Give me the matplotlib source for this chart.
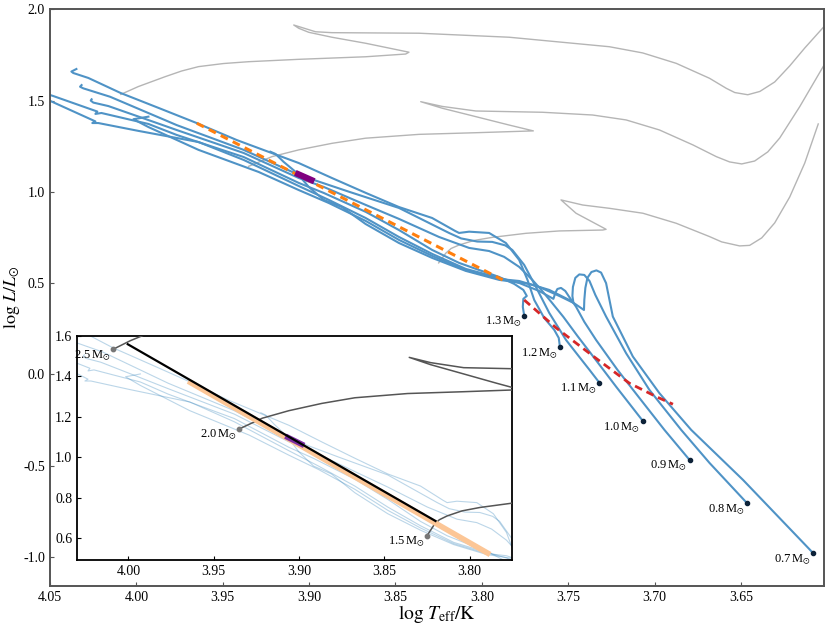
import matplotlib
matplotlib.use("Agg")
import matplotlib.pyplot as plt
from matplotlib.ticker import FormatStrFormatter

plt.rcParams["font.family"] = "serif"
plt.rcParams["font.serif"] = ["Liberation Serif", "DejaVu Serif"]
plt.rcParams["mathtext.fontset"] = "stix"

# --- blue tracks (first point = labelled dot) ---
t07_logT = [3.6082, 3.6488, 3.6788, 3.6972, 3.7126, 3.7242, 3.7281, 3.7310, 3.7337, 3.7366,
            3.7389, 3.7401, 3.7407, 3.7409, 3.7494, 3.7610, 3.7726, 3.7900, 3.8093, 3.8287,
            3.8480, 3.8673, 3.8810, 3.8915, 3.9002, 3.9071, 3.9147, 3.9195, 3.9224]
t07_logL = [-0.979, -0.578, -0.304, -0.103, 0.098, 0.317, 0.500, 0.558, 0.570, 0.561,
            0.529, 0.474, 0.408, 0.353, 0.408, 0.463, 0.496, 0.518, 0.567, 0.638,
            0.720, 0.824, 0.917, 0.956, 1.027, 1.104, 1.164, 1.208, 1.220]

t08_logT = [3.6465, 3.6682, 3.6846, 3.7030, 3.7165, 3.7281, 3.7343, 3.7377, 3.7407, 3.7436,
            3.7459, 3.7473, 3.7476, 3.7470, 3.7552, 3.7668, 3.7784, 3.7900, 3.8093, 3.8287,
            3.8480, 3.8673, 3.8886, 3.9060, 3.9292, 3.9640, 3.9930, 4.0017, 3.9930]
t08_logL = [-0.705, -0.485, -0.304, -0.085, 0.116, 0.317, 0.435, 0.512, 0.545, 0.548,
            0.529, 0.479, 0.430, 0.392, 0.430, 0.479, 0.512, 0.523, 0.572, 0.649,
            0.737, 0.841, 0.939, 1.010, 1.109, 1.230, 1.355, 1.398, 1.412]

t09_logT = [3.6798, 3.6943, 3.7088, 3.7215, 3.7339, 3.7407, 3.7455, 3.7494, 3.7517, 3.7542,
            3.7563, 3.7575, 3.7586, 3.7668, 3.7784, 3.7900, 3.8093, 3.8287, 3.8480, 3.8673,
            3.8886, 3.9060, 3.9379, 3.9640, 3.9988, 4.0220, 4.0255, 4.0237, 4.0498, 4.0527]
t09_logL = [-0.468, -0.304, -0.129, 0.025, 0.189, 0.288, 0.371, 0.424, 0.457, 0.474,
            0.468, 0.446, 0.414, 0.457, 0.501, 0.529, 0.578, 0.660, 0.753, 0.857,
            0.956, 1.032, 1.175, 1.273, 1.334, 1.377, 1.377, 1.386, 1.498, 1.509]

t10_logT = [3.7068, 3.7223, 3.7349, 3.7447, 3.7528, 3.7598, 3.7656, 3.7708, 3.7784, 3.7871,
            3.7958, 3.8074, 3.8248, 3.8480, 3.8671, 3.8915, 3.9060, 3.9379, 3.9767, 3.9959,
            4.0162, 4.0249, 4.0264, 4.0259]
t10_logL = [-0.255, -0.067, 0.090, 0.211, 0.315, 0.397, 0.463, 0.518, 0.589, 0.644,
            0.676, 0.693, 0.753, 0.852, 0.928, 1.027, 1.076, 1.213, 1.339, 1.403,
            1.470, 1.489, 1.500, 1.507]

t11_logT = [3.7320, 3.7377, 3.7436, 3.7513, 3.7610, 3.7687, 3.7755, 3.7824, 3.7865, 3.7940,
            3.8027, 3.8120, 3.8190, 3.8480, 3.8770, 3.9060, 3.9379, 3.9767, 4.0152, 4.0307,
            4.0326, 4.0317]
t11_logL = [-0.045, 0.025, 0.096, 0.189, 0.337, 0.479, 0.600, 0.682, 0.707, 0.726,
            0.728, 0.745, 0.775, 0.912, 1.001, 1.093, 1.230, 1.366, 1.521, 1.567,
            1.576, 1.585]

t12_logT = [3.7548, 3.7555, 3.7581, 3.7639, 3.7697, 3.7736, 3.7784, 3.7861, 3.7958, 3.8074,
            3.8132, 3.8155, 3.8288, 3.8480, 3.8671, 3.8868, 3.9060, 3.9234, 3.9419, 3.9651,
            3.9872, 4.0092, 4.0278, 4.0365, 4.0376, 4.0347]
t12_logL = [0.149, 0.200, 0.244, 0.309, 0.408, 0.518, 0.627, 0.720, 0.775, 0.782,
            0.775, 0.786, 0.857, 0.917, 0.994, 1.076, 1.158, 1.219, 1.284, 1.377,
            1.460, 1.542, 1.624, 1.651, 1.659, 1.673]

t13_logT = [3.7755, 3.7763, 3.7760, 3.7740, 3.7760, 3.7813, 3.7900, 3.8016, 3.8132, 3.8288,
            3.8480, 3.8671, 3.8915, 3.9060, 3.9379, 3.9767, 3.9930, 4.0202, 4.0237, 4.0226,
            4.0481, 4.0527]
t13_logL = [0.322, 0.370, 0.414, 0.430, 0.463, 0.496, 0.534, 0.572, 0.611, 0.682,
            0.791, 0.890, 0.994, 1.049, 1.191, 1.312, 1.372, 1.432, 1.427, 1.440,
            1.525, 1.539]

blue_masses = ["0.7", "0.8", "0.9", "1.0", "1.1", "1.2", "1.3"]
blue_tracks = [(t07_logT, t07_logL), (t08_logT, t08_logL), (t09_logT, t09_logL),
               (t10_logT, t10_logL), (t11_logT, t11_logL), (t12_logT, t12_logL),
               (t13_logT, t13_logL)]

# --- grey tracks ---
g15_logT = [3.825, 3.8209, 3.8178, 3.8132, 3.8045, 3.7939, 3.7745, 3.7552, 3.7300, 3.7281,
            3.7455, 3.7542, 3.7416, 3.7262, 3.7068, 3.6875, 3.6682, 3.6612, 3.6508, 3.6450,
            3.6380, 3.6305, 3.6218, 3.6131, 3.6053]
g15_logL = [0.611, 0.664, 0.690, 0.709, 0.734, 0.751, 0.773, 0.786, 0.791, 0.795,
            0.883, 0.956, 0.928, 0.910, 0.883, 0.828, 0.755, 0.726, 0.704, 0.707,
            0.748, 0.830, 0.972, 1.158, 1.372]

g20_logT = [3.935, 3.9215, 3.9060, 3.8867, 3.8673, 3.8364, 3.8035, 3.7702, 3.7842, 3.8035,
            3.8229, 3.8354, 3.8229, 3.8035, 3.7649, 3.7359, 3.7165, 3.6972, 3.6778, 3.6643,
            3.6566, 3.6496, 3.6421, 3.6345, 3.6276, 3.6160, 3.6019, 3.5957]
g20_logL = [1.140, 1.193, 1.230, 1.266, 1.294, 1.315, 1.324, 1.334, 1.366, 1.412,
            1.458, 1.494, 1.468, 1.443, 1.436, 1.421, 1.394, 1.339, 1.257, 1.193,
            1.164, 1.153, 1.169, 1.219, 1.295, 1.467, 1.695, 1.805]

g25_logT = [4.009, 3.9988, 3.9833, 3.9738, 3.9640, 3.9495, 3.9350, 3.9060, 3.8673, 3.8441,
            3.8422, 3.8673, 3.8868, 3.9002, 3.9060, 3.9089, 3.8963, 3.8868, 3.8364, 3.7842,
            3.7262, 3.7069, 3.6875, 3.6682, 3.6585, 3.6536, 3.6461, 3.6391, 3.6305, 3.6218,
            3.6131, 3.6020, 3.5985]
g25_logL = [1.534, 1.577, 1.631, 1.662, 1.686, 1.703, 1.713, 1.726, 1.740, 1.755,
            1.765, 1.814, 1.847, 1.874, 1.896, 1.914, 1.877, 1.872, 1.869, 1.847,
            1.795, 1.761, 1.704, 1.622, 1.567, 1.544, 1.532, 1.550, 1.602, 1.690,
            1.788, 1.905, 1.940]

grey_masses = ["1.5", "2.0", "2.5"]
grey_tracks = [(g15_logT, g15_logL), (g20_logT, g20_logL), (g25_logT, g25_logL)]

# --- fitted lines ---
orange_logT = [3.965, 3.788]
orange_logL = [1.376, 0.518]
purple_logT = [3.908, 3.897]
purple_logL = [1.104, 1.058]
red_logT = [3.7755, 3.757, 3.734, 3.7146, 3.699, 3.6894]
red_logL = [0.408, 0.255, 0.089, -0.048, -0.122, -0.163]
black_logT = [4.0004, 3.820]
black_logL = [1.559, 0.684]

fig = plt.figure(figsize=(8.3, 6.24), dpi=100)
ax = fig.add_axes([0.0602, 0.0614, 0.9325, 0.9237])

for lt, ll in grey_tracks:
    ax.plot(lt, ll, color="#b5b5b5", lw=1.0, zorder=1)
for lt, ll in blue_tracks:
    ax.plot(lt, ll, color="#4f93c6", lw=1.5, zorder=2)
ax.plot(orange_logT, orange_logL, color="#ff7f0e", lw=2.2, ls="--", dashes=(2.6, 1.8), zorder=4)
ax.plot(red_logT, red_logL, color="#d62728", lw=2.0, ls="--", dashes=(2.8, 1.8), zorder=4)
ax.plot(purple_logT, purple_logL, color="purple", lw=4.5, solid_capstyle="butt", zorder=5)

ax.scatter([t[0][0] for t in blue_tracks], [t[1][0] for t in blue_tracks],
           s=9, color="#0d2238", zorder=6)
for m, (lt, ll) in zip(blue_masses, blue_tracks):
    ax.annotate(m + r"$\,$M$_{\odot}$", (lt[0], ll[0]), xytext=(-2, -4.5),
                textcoords="offset points", ha="right", va="center", fontsize=9)

ax.set_xlim(4.05, 3.602)
ax.set_ylim(-1.157, 2.0)
ax.set_xticks([4.05, 4.00, 3.95, 3.90, 3.85, 3.80, 3.75, 3.70, 3.65])
ax.set_yticks([-1.0, -0.5, 0.0, 0.5, 1.0, 1.5, 2.0])
ax.xaxis.set_major_formatter(FormatStrFormatter("%.2f"))
ax.yaxis.set_major_formatter(FormatStrFormatter("%.1f"))
ax.tick_params(direction="in", length=3, labelsize=10, color="#555555")
for sp in ax.spines.values():
    sp.set_color("#555555")
    sp.set_linewidth(1.4)
ax.set_xlabel(r"$\log\,T_{\rm eff}/{\rm K}$", fontsize=14)
ax.xaxis.set_label_coords(0.5, -0.03)
ax.set_ylabel(r"$\log\,L/L_{\odot}$", fontsize=13)
ax.yaxis.set_label_coords(-0.036, 0.5)

# inset
axi = fig.add_axes([0.0931, 0.1026, 0.5241, 0.359])
for lt, ll in blue_tracks:
    axi.plot(lt, ll, color="#1f77b4", lw=0.8, alpha=0.3, zorder=2)
for lt, ll in grey_tracks:
    axi.plot(lt, ll, color="#555555", lw=1.1, zorder=3)
axi.plot(orange_logT, orange_logL, color="#fcc696", lw=4, solid_capstyle="butt", zorder=3)
axi.plot(purple_logT, purple_logL, color="#7d2ea0", lw=4, solid_capstyle="butt", zorder=4)
axi.plot(black_logT, black_logL, color="k", lw=1.6, zorder=5)
axi.scatter([t[0][0] for t in grey_tracks], [t[1][0] for t in grey_tracks],
            s=10, color="#777777", zorder=6)
for m, (lt, ll) in zip(grey_masses, grey_tracks):
    axi.annotate(m + r"$\,$M$_{\odot}$", (lt[0], ll[0]), xytext=(-2, -4.5),
                 textcoords="offset points", ha="right", va="center", fontsize=9)

axi.set_xlim(4.03, 3.775)
axi.set_ylim(0.491, 1.6)
axi.set_xticks([4.00, 3.95, 3.90, 3.85, 3.80])
axi.set_yticks([0.6, 0.8, 1.0, 1.2, 1.4, 1.6])
axi.xaxis.set_major_formatter(FormatStrFormatter("%.2f"))
axi.yaxis.set_major_formatter(FormatStrFormatter("%.1f"))
axi.tick_params(direction="in", length=3, labelsize=10)
for sp in axi.spines.values():
    sp.set_linewidth(1.3)

fig.savefig("out.png", dpi=100)
